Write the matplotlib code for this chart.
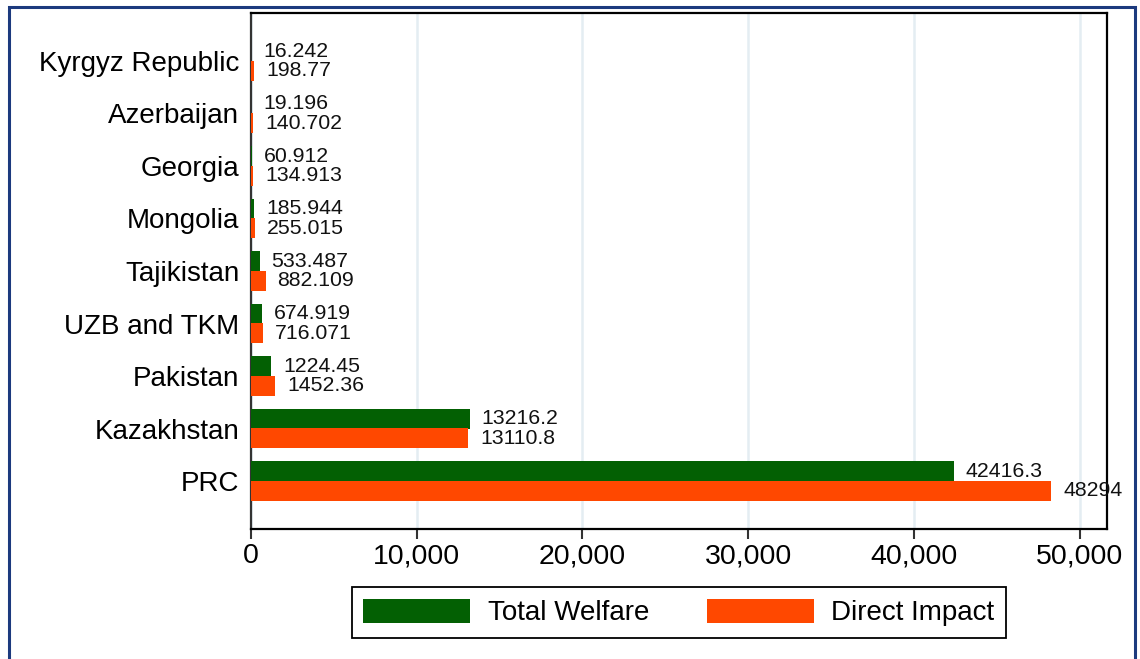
import matplotlib
matplotlib.use("Agg")
import matplotlib.pyplot as plt
from matplotlib.patches import Rectangle
from matplotlib.ticker import FuncFormatter
import numpy as np

categories = ["Kyrgyz Republic", "Azerbaijan", "Georgia", "Mongolia", "Tajikistan",
              "UZB and TKM", "Pakistan", "Kazakhstan", "PRC"]
total_welfare = [16.242, 19.196, 60.912, 185.944, 533.487, 674.919, 1224.45, 13216.2, 42416.3]
direct_impact = [198.77, 140.702, 134.913, 255.015, 882.109, 716.071, 1452.36, 13110.8, 48294]
series_names = ["Total Welfare", "Direct Impact"]
x_ticks = [0, 10000, 20000, 30000, 40000, 50000]

GREEN = "#036003"
ORANGE = "#ff4800"

plt.rcParams['font.family'] = ['Liberation Sans', 'DejaVu Sans']

fig = plt.figure(figsize=(11.4, 6.59), dpi=100)
fig.patch.set_facecolor("white")

# outer navy frame
fig.patches.append(Rectangle((9 / 1140, -0.05), (1135 - 9) / 1140, 1.05 - 7 / 659,
                             transform=fig.transFigure, fill=False,
                             edgecolor="#1c3a7e", linewidth=2.2, zorder=0))

ax = fig.add_axes([251 / 1140, 1 - 529 / 659, (1107 - 251) / 1140, (529 - 13) / 659])

y = np.arange(len(categories))
h = 0.381
off = 0.19
b1 = ax.barh(y - off, total_welfare, height=h, color=GREEN, label=series_names[0], zorder=3)
b2 = ax.barh(y + off, direct_impact, height=h, color=ORANGE, label=series_names[1], zorder=3)

for bars, vals in ((b1, total_welfare), (b2, direct_impact)):
    for rect, v in zip(bars, vals):
        ax.annotate("%g" % v, xy=(rect.get_width(), rect.get_y() + rect.get_height() / 2),
                    xytext=(8.5, 0), textcoords="offset points", va="center", ha="left",
                    fontsize=15.3, color="#111111", zorder=4)

ax.set_ylim(len(categories) - 1 + 0.914, -0.914)
ax.set_xlim(0, 51650)
ax.set_yticks(y)
ax.set_yticklabels(categories, fontsize=20)
ax.set_xticks(x_ticks)
ax.xaxis.set_major_formatter(FuncFormatter(lambda v, p: f"{int(v):,}"))
ax.tick_params(axis="x", labelsize=20.5, length=7.2, width=1.5, color="#333333", pad=3)
ax.tick_params(axis="y", length=0, pad=8.5)

ax.grid(axis="x", color="#e4edf2", linewidth=1.8, zorder=0)
ax.set_axisbelow(True)
for s in ["top", "right", "bottom"]:
    ax.spines[s].set_color("black")
    ax.spines[s].set_linewidth(1.6)
ax.spines["left"].set_color("#333333")
ax.spines["left"].set_linewidth(1.6)

leg = fig.legend(handles=[b1, b2], labels=series_names, loc="upper center",
                 bbox_to_anchor=(679 / 1140, 1 - 587 / 659), ncol=2, fontsize=20,
                 frameon=True, fancybox=False, framealpha=1, edgecolor="black",
                 handlelength=3.85, handleheight=0.95, handletextpad=0.62,
                 columnspacing=2.1, borderpad=0.42, borderaxespad=0)
leg.get_frame().set_linewidth(1.3)

fig.savefig("out.png", dpi=100)
